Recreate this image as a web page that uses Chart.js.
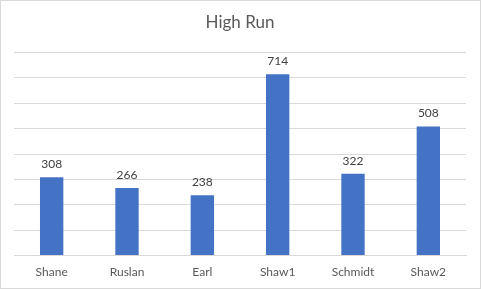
<!DOCTYPE html>
<html>
<head>
<meta charset="utf-8">
<script src="https://cdn.jsdelivr.net/npm/chart.js@4/dist/chart.umd.min.js"></script>
<style>
  html, body { margin: 0; padding: 0; background: #fff; }
  #wrap { width: 481px; height: 289px; box-sizing: border-box; border: 1px solid #d9d9d9; }
  canvas { display: block; }
</style>
</head>
<body>
<div id="wrap"><canvas id="barChart" width="479" height="287"></canvas></div>
<script>
var players = ['Shane', 'Ruslan', 'Earl', 'Shaw1', 'Schmidt', 'Shaw2'];
var highRuns = [308, 266, 238, 714, 322, 508];
var yTicks = [0, 100, 200, 300, 400, 500, 600, 700, 800];

// draws the value above each bar
var valueLabels = {
    id: 'valueLabels',
    afterDatasetsDraw: function (chart) {
        var ctx = chart.ctx;
        ctx.save();
        ctx.font = '12px Lato';
        ctx.fillStyle = '#404040';
        ctx.textAlign = 'center';
        ctx.textBaseline = 'middle';
        chart.getDatasetMeta(0).data.forEach(function (bar, i) {
            ctx.fillText(chart.data.datasets[0].data[i], bar.x, bar.y - 13);
        });
        ctx.restore();
    }
};

var ctx = document.getElementById('barChart').getContext('2d');
var myBarChart = new Chart(ctx, {
    type: 'bar',
    data: {
        labels: players,
        datasets: [{
            data: highRuns,
            backgroundColor: '#4472C4',
            barPercentage: 0.31,
            categoryPercentage: 1
        }]
    },
    plugins: [valueLabels],
    options: {
        responsive: false,
        animation: false,
        layout: { padding: { left: 13, right: 14, bottom: 0 } },
        plugins: {
            legend: { display: false },
            tooltip: { enabled: false },
            title: {
                display: true,
                text: 'High Run',
                color: '#595959',
                font: { family: 'Lato', size: 17, weight: 'normal' },
                padding: { top: 11, bottom: 20 }
            }
        },
        scales: {
            x: {
                grid: { display: false, drawTicks: false },
                border: { color: '#d9d9d9' },
                ticks: { color: '#595959', font: { family: 'Lato', size: 12 }, padding: 9 }
            },
            y: {
                min: yTicks[0],
                max: yTicks[yTicks.length - 1],
                ticks: { display: false, stepSize: yTicks[1] - yTicks[0] },
                grid: { color: '#d9d9d9', drawTicks: false },
                border: { display: false }
            }
        }
    }
});
</script>
</body>
</html>
